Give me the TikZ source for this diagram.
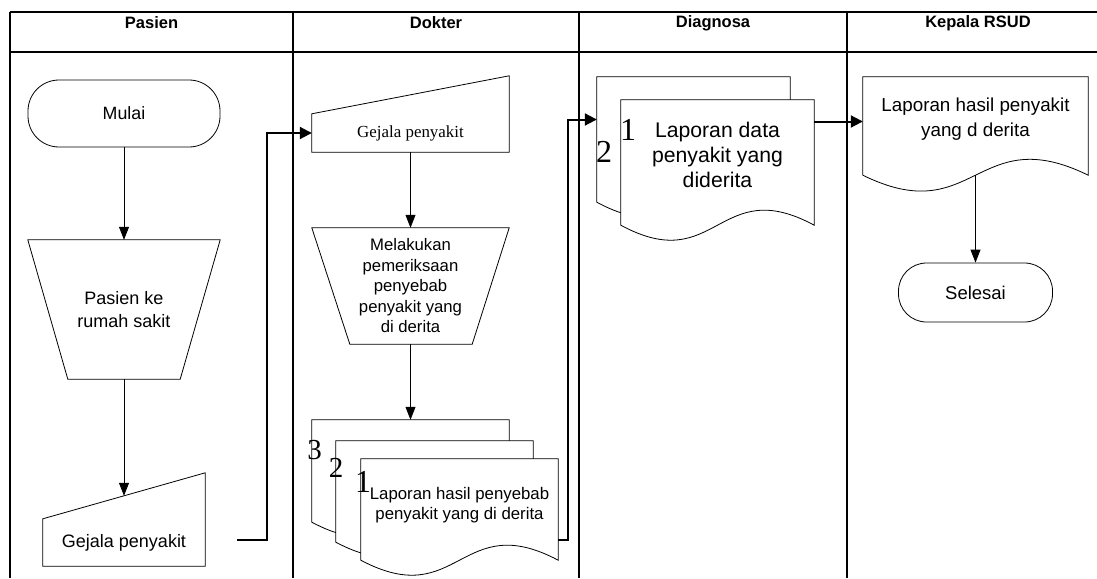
\documentclass[tikz,border=0pt]{standalone}
\usepackage{fontspec}
\setmainfont{Liberation Serif}
\setsansfont{Liberation Sans}
\usetikzlibrary{arrows.meta}
\usetikzlibrary{positioning}

\begin{document}
\begin{tikzpicture}[x=1pt, y=-1pt,
  >={Triangle[length=13pt,width=10pt]},
  lane/.style={line width=2pt},
  hdr/.style={font=\sffamily\bfseries\fontsize{16.5}{19}\selectfont},
  txt/.style args={#1/#2}{font=\sffamily\fontsize{#1}{#2}\selectfont, align=center, inner sep=0pt},
  blok/.style={draw=none, inner sep=0pt, minimum width=#1},
  garis/.style={line width=0.8pt},
  alur/.style={->, line width=0.8pt},
  antar/.style={-{Triangle[length=12pt,width=12pt]}, line width=2pt},
  angka/.style={font=\rmfamily\fontsize{#1}{#1}\selectfont, inner sep=0pt},
  terminal/.style={draw, line width=0.8pt, rounded corners=#1, inner sep=0pt}
]
  \useasboundingbox (0,0) rectangle (1097,578);

  % tabel swimlane
  \draw[lane] (10,12) -- (1097,12);
  \draw[lane] (10,52) -- (1097,52);
  \foreach \x in {10,293,579,847}
    \draw[lane] (\x,12) -- (\x,578);

  \node[hdr] (hPasien) at (151.5,23) {Pasien};
  \node[hdr] (hDokter) at (436,23) {Dokter};
  \node[hdr] (hDiagnosa) at (713,23) {Diagnosa};
  \node[hdr] (hKepala) at (978,23) {Kepala RSUD};

  % Pasien
  \node[terminal=31pt, txt={17.8/21}, minimum width=192pt, minimum height=67pt] (mulai) at (124,113.5) {Mulai};

  \node[blok=192pt, minimum height=139pt, txt={18/23}] (rs) at (124,309.5) {Pasien ke\\rumah sakit};
  \draw[garis] (rs.north west) -- (rs.north east) -- ([xshift=-40pt]rs.south east)
    -- ([xshift=40pt]rs.south west) -- cycle;

  \node[blok=162pt, minimum height=47pt, txt={18/21}] (gp1) at (124,542.5) {Gejala penyakit};
  \draw[garis] (gp1.south west) -- (gp1.north west) -- coordinate[midway] (gp1-in)
    ([yshift=46pt]gp1.north east) -- (gp1.south east) -- cycle;

  \draw[alur] (mulai.south) -- (rs.north);
  \draw[alur] (rs.south) -- (gp1-in);

  % Dokter
  \node[blok=197pt, minimum height=38pt, font=\rmfamily\fontsize{16.9}{20}\selectfont] (gp2) at (410.5,133) {Gejala penyakit};
  \draw[garis] (gp2.south west) -- (gp2.north west) -- ([yshift=38pt]gp2.north east)
    -- (gp2.south east) -- cycle;

  \node[blok=197pt, minimum height=116pt, txt={16.7/20.5}] (pr) at (410.5,286)
    {Melakukan\\pemeriksaan\\penyebab\\penyakit yang\\di derita};
  \draw[garis] (pr.north west) -- (pr.north east) -- ([xshift=-37pt]pr.south east)
    -- ([xshift=38pt]pr.south west) -- cycle;

  \node[blok=197pt, minimum height=102pt] (lp3) at (410.5,471) {};
  \draw[garis, fill=white] (lp3.north west) -- (lp3.south west)
    .. controls +(98,52) and +(-98,-52) .. (lp3.south east) -- (lp3.north east) -- cycle;
  \node[blok=197pt, minimum height=101pt] (lp2) at (434.5,491.5) {};
  \draw[garis, fill=white] (lp2.north west) -- (lp2.south west)
    .. controls +(98,52) and +(-98,-52) .. (lp2.south east) -- (lp2.north east) -- cycle;
  \node[blok=197pt, minimum height=101pt] (lp1) at (459.5,509.5) {};
  \draw[garis, fill=white] (lp1.north west) -- (lp1.south west)
    .. controls +(98,52) and +(-98,-52) .. (lp1.south east) -- (lp1.north east) -- cycle;
  \node[txt={16.8/20}] (lp-teks) at ([yshift=4.5pt]lp1.center) {Laporan hasil penyebab\\penyakit yang di derita};

  \node[angka=29] (lp3-no) at (314.5,450) {3};
  \node[angka=29] (lp2-no) at (336,468) {2};
  \node[angka=32] (lp1-no) at (363,482) {1};

  \draw[alur] (gp2.south) -- (pr.north);
  \draw[alur] (pr.south) -- (lp3.north);

  % Diagnosa
  \node[blok=193pt, minimum height=125pt] (ld2) at (693.5,139.5) {};
  \draw[garis, fill=white] (ld2.north west) -- (ld2.south west)
    .. controls +(96,52) and +(-96,-52) .. (ld2.south east) -- (ld2.north east) -- cycle;
  \node[blok=193pt, minimum height=125pt] (ld1) at (717.5,162.5) {};
  \draw[garis, fill=white] (ld1.north west) -- (ld1.south west)
    .. controls +(96,52) and +(-96,-52) .. (ld1.south east) -- (ld1.north east) -- cycle;
  \node[txt={21.2/25}] (ld-teks) at ([yshift=7.5pt]ld1.center) {Laporan data\\penyakit yang\\diderita};

  \node[angka=32] (ld1-no) at (628,130) {1};
  \node[angka=32] (ld2-no) at (604,152) {2};

  % Kepala RSUD
  \node[blok=225pt, minimum height=98pt] (lk) at (975.5,126) {};
  \draw[garis] (lk.north west) -- (lk.south west)
    .. controls +(112,55) and +(-112,-55) .. (lk.south east) -- (lk.north east) -- cycle;
  \node[txt={18.8/25}] (lk-teks) at ([yshift=6.5pt]lk.center) {Laporan hasil penyakit\\yang d derita};

  \node[terminal=28pt, txt={18.5/22}, minimum width=154pt, minimum height=59pt] (selesai) at (975.5,292.5) {Selesai};
  \draw[alur] (lk.south) -- (selesai.north);

  % antar lane
  \coordinate (c1) at ([xshift=32pt, yshift=3pt]gp1.east);
  \draw[antar] (c1) -- ++(30,0) |- (gp2.west);
  \draw[antar] ([yshift=-30pt]lp1.east) -- ++(10,0) |- ([yshift=20pt]ld2.west);
  \draw[antar] ([yshift=41pt]ld1.east) -- ([yshift=41pt]ld1.east -| lk.west);
\end{tikzpicture}
\end{document}
